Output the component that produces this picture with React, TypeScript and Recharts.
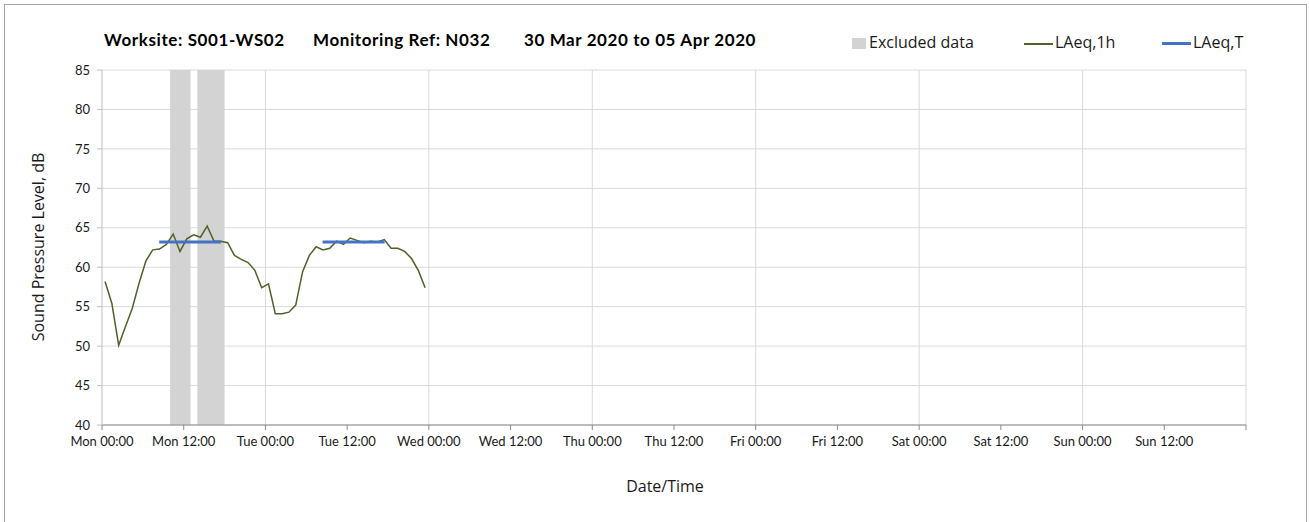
import React from "react";
import {
  ComposedChart,
  Line,
  XAxis,
  YAxis,
  CartesianGrid,
  ReferenceArea,
  ReferenceLine,
} from "recharts";

// hourly LAeq,1h values, Mon 00:00 onwards
const laeq1hValues = [
  58.2, 55.4, 50.1, 52.5, 54.8, 58.0, 60.8, 62.2, 62.3, 62.9, 64.2, 62.0,
  63.6, 64.1, 63.8, 65.2, 63.3, 63.3, 63.1, 61.5, 61.0, 60.6, 59.6, 57.4,
  57.9, 54.1, 54.1, 54.3, 55.2, 59.4, 61.5, 62.6, 62.2, 62.4, 63.3, 62.9,
  63.7, 63.4, 63.1, 63.3, 63.2, 63.5, 62.4, 62.4, 62.0, 61.1, 59.6, 57.4,
];
const hourOffset = 0.45;

const laeqTPeriods = [
  { start: 8.4, end: 17.5, value: 63.2 },
  { start: 32.4, end: 41.5, value: 63.2 },
];

const excludedPeriods = [
  { start: 10, end: 13 },
  { start: 14, end: 18 },
];

const dayNames = ["Mon", "Tue", "Wed", "Thu", "Fri", "Sat", "Sun"];
const xTicks = [0, 12, 24, 36, 48, 60, 72, 84, 96, 108, 120, 132, 144, 156, 168];
const dayLines = [24, 48, 72, 96, 120, 144, 168];
const yTicks = [40, 45, 50, 55, 60, 65, 70, 75, 80, 85];

const lineData = laeq1hValues.map((v, i) => ({ t: i + hourOffset, v }));

const GREEN = "#4f6228";
const BLUE = "#4472c4";
const GRID = "#d9d9d9";
const AXIS = "#8c8c8c";
const TICK_FONT = "Lato, 'Open Sans', sans-serif";
const LABEL_FONT = "'Open Sans', 'Noto Sans', sans-serif";

const formatTick = (t: number) => {
  if (t >= 168) return "";
  const day = dayNames[Math.floor(t / 24)];
  return `${day} ${t % 24 === 0 ? "00:00" : "12:00"}`;
};

const tickStyle = {
  fontSize: 13,
  fill: "#1a1a1a",
  fontFamily: TICK_FONT,
};

export default function App() {
  return (
    <div
      style={{
        position: "absolute",
        left: 0,
        top: 0,
        width: 1309,
        height: 522,
        background: "#fff",
        overflow: "hidden",
      }}
    >
      <div
        style={{
          position: "absolute",
          left: 4,
          top: 4,
          width: 1303,
          height: 540,
          border: "1px solid #a6a6a6",
          boxSizing: "border-box",
        }}
      />

      <ComposedChart
        width={1309}
        height={522}
        margin={{ top: 70, right: 63, left: 42, bottom: 67 }}
        style={{ position: "absolute", left: 0, top: 0 }}
      >
        <CartesianGrid vertical={false} stroke={GRID} />
        <XAxis
          dataKey="t"
          type="number"
          domain={[0, 168]}
          ticks={xTicks}
          tickFormatter={formatTick}
          interval={0}
          allowDataOverflow
          height={30}
          tickSize={5}
          tickMargin={7}
          stroke={AXIS}
          tick={tickStyle}
        />
        <YAxis
          type="number"
          domain={[40, 85]}
          ticks={yTicks}
          interval={0}
          width={60}
          tickSize={5}
          tickMargin={7}
          stroke="#bfbfbf"
          tick={tickStyle}
        />
        {dayLines.map((d) => (
          <ReferenceLine key={d} x={d} stroke={GRID} />
        ))}
        {excludedPeriods.map((p) => (
          <ReferenceArea
            key={p.start}
            x1={p.start}
            x2={p.end}
            y1={40}
            y2={85}
            fill="#d3d3d3"
            fillOpacity={1}
            stroke="none"
          />
        ))}
        <Line
          data={lineData}
          dataKey="v"
          type="linear"
          stroke={GREEN}
          strokeWidth={1.5}
          dot={false}
          isAnimationActive={false}
        />
        {laeqTPeriods.map((p) => (
          <Line
            key={p.start}
            data={[
              { t: p.start, v: p.value },
              { t: p.end, v: p.value },
            ]}
            dataKey="v"
            type="linear"
            stroke={BLUE}
            strokeWidth={3}
            dot={false}
            isAnimationActive={false}
          />
        ))}
      </ComposedChart>

      {/* title */}
      <div
        style={{
          position: "absolute",
          top: 29,
          left: 0,
          fontFamily: TICK_FONT,
          fontWeight: 700,
          fontSize: 17,
          letterSpacing: 0.6,
          color: "#000",
          whiteSpace: "nowrap",
        }}
      >
        <span style={{ position: "absolute", left: 104 }}>Worksite: S001-WS02</span>
        <span style={{ position: "absolute", left: 313 }}>Monitoring Ref: N032</span>
        <span style={{ position: "absolute", left: 524 }}>30 Mar 2020 to 05 Apr 2020</span>
      </div>

      {/* legend */}
      <div
        style={{
          position: "absolute",
          top: 31,
          left: 0,
          fontFamily: LABEL_FONT,
          fontSize: 16,
          color: "#1a1a1a",
          whiteSpace: "nowrap",
        }}
      >
        <div style={{ position: "absolute", left: 852, top: 7, width: 14, height: 11, background: "#d3d3d3" }} />
        <span style={{ position: "absolute", left: 869, top: 0 }}>Excluded data</span>
        <div style={{ position: "absolute", left: 1024, top: 12, width: 29, height: 1.5, background: GREEN }} />
        <span style={{ position: "absolute", left: 1055, top: 0 }}>LAeq,1h</span>
        <div style={{ position: "absolute", left: 1162, top: 11, width: 29, height: 3, background: BLUE }} />
        <span style={{ position: "absolute", left: 1193, top: 0 }}>LAeq,T</span>
      </div>

      {/* axis titles */}
      <div
        style={{
          position: "absolute",
          left: 38,
          top: 247,
          transform: "translate(-50%, -50%) rotate(-90deg)",
          fontFamily: LABEL_FONT,
          fontSize: 16,
          color: "#1a1a1a",
          whiteSpace: "nowrap",
        }}
      >
        Sound Pressure Level, dB
      </div>
      <div
        style={{
          position: "absolute",
          left: 665,
          top: 486,
          transform: "translate(-50%, -50%)",
          fontFamily: LABEL_FONT,
          fontSize: 16,
          color: "#1a1a1a",
          whiteSpace: "nowrap",
        }}
      >
        Date/Time
      </div>
    </div>
  );
}
